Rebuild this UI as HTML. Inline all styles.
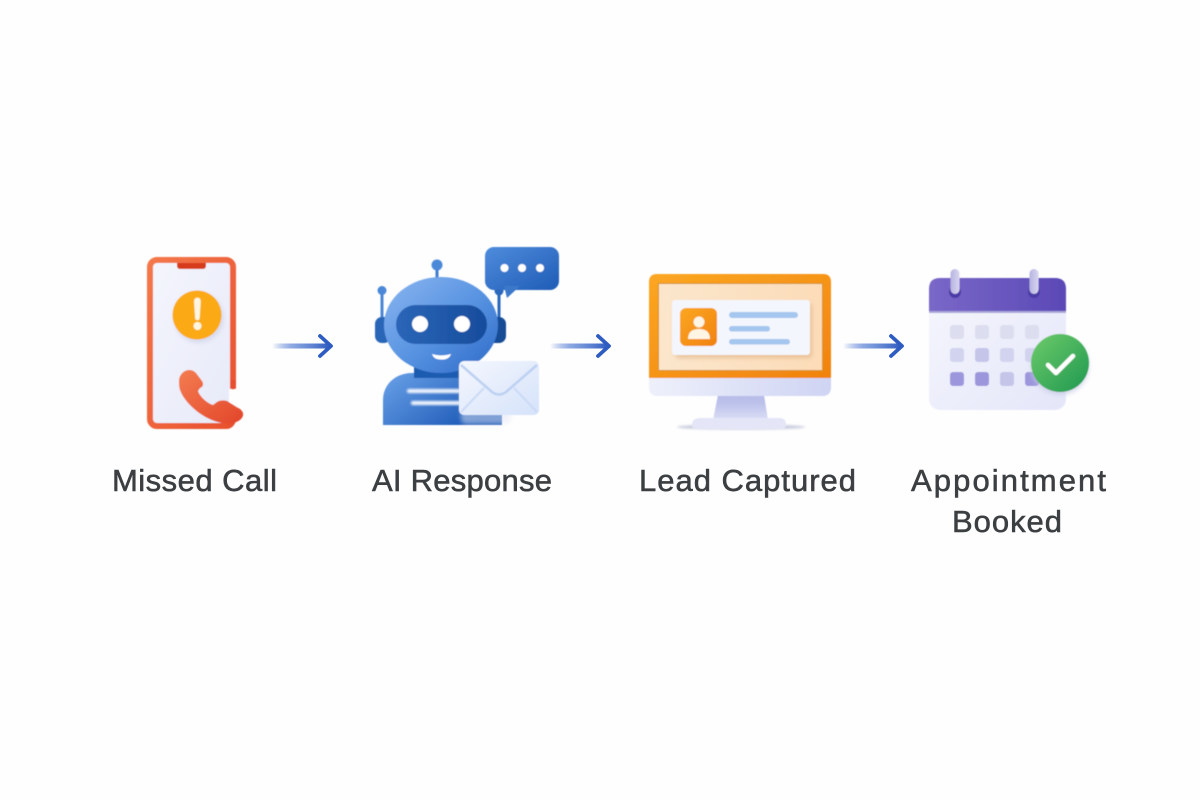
<!DOCTYPE html>
<html lang="en">
<head>
<meta charset="utf-8">
<title>Missed Call to Appointment Booked</title>
<style>
html,body{margin:0;padding:0;background:#fefefe}
svg{display:block}
text{font-family:"Liberation Sans",sans-serif;font-size:31px;fill:#3c3f42;stroke:#3c3f42;stroke-width:.55px}
</style>
</head>
<body>
<svg width="1200" height="800" viewBox="0 0 1200 800" xmlns="http://www.w3.org/2000/svg">
<defs>
<linearGradient id="ar" x1="0" x2="1" y1="0" y2="0"><stop offset="0" stop-color="#3a66c8" stop-opacity="0"/><stop offset=".35" stop-color="#6f92db" stop-opacity=".8"/><stop offset="1" stop-color="#2f5cc0"/></linearGradient>
<linearGradient id="ph" x1="0" x2="1" y1="0" y2="1"><stop offset="0" stop-color="#f4784a"/><stop offset="1" stop-color="#e8502e"/></linearGradient>
<linearGradient id="scr" x1="0" x2="1" y1="0" y2="1"><stop offset="0" stop-color="#f5f6fd"/><stop offset="1" stop-color="#e6e9f8"/></linearGradient>
<linearGradient id="hs" x1="0" x2="1" y1="0" y2="1"><stop offset="0" stop-color="#f47c50"/><stop offset="1" stop-color="#e2462a"/></linearGradient>
<linearGradient id="rb" x1="0" x2="1" y1="0" y2="1"><stop offset="0" stop-color="#8ab6f0"/><stop offset=".55" stop-color="#5591e0"/><stop offset="1" stop-color="#2c68c6"/></linearGradient>
<linearGradient id="rbd" x1="0" x2="1" y1="0" y2=".6"><stop offset="0" stop-color="#6aa2e8"/><stop offset="1" stop-color="#1c59b6"/></linearGradient>
<linearGradient id="bub" x1="0" x2="1" y1="0" y2="1"><stop offset="0" stop-color="#4e8cdc"/><stop offset="1" stop-color="#1f5cb6"/></linearGradient>
<linearGradient id="vis" x1="0" x2="1" y1="0" y2="0"><stop offset="0" stop-color="#2b66b8"/><stop offset="1" stop-color="#174c9c"/></linearGradient>
<linearGradient id="env" x1="0" x2="1" y1="0" y2="1"><stop offset="0" stop-color="#f4f7fe"/><stop offset="1" stop-color="#d5e2fa"/></linearGradient>
<linearGradient id="or" x1="0" x2="1" y1="0" y2="1"><stop offset="0" stop-color="#fba722"/><stop offset="1" stop-color="#f1820f"/></linearGradient>
<linearGradient id="msc" x1="0" x2="1" y1="0" y2="0"><stop offset="0" stop-color="#fbe6cc"/><stop offset="1" stop-color="#fcdcb8"/></linearGradient>
<linearGradient id="chin" x1="0" x2="1" y1="0" y2="0"><stop offset="0" stop-color="#eef0fb"/><stop offset="1" stop-color="#cfd4f3"/></linearGradient>
<linearGradient id="stand" x1="0" x2="0" y1="0" y2="1"><stop offset="0" stop-color="#b6bce8"/><stop offset=".35" stop-color="#bcc2ea"/><stop offset="1" stop-color="#dcdff6"/></linearGradient>
<linearGradient id="cal" x1="0" x2="1" y1="0" y2="1"><stop offset="0" stop-color="#f6f7fd"/><stop offset="1" stop-color="#e4e6f9"/></linearGradient>
<linearGradient id="calh" x1="0" x2="1" y1="0" y2="0"><stop offset="0" stop-color="#7a68c8"/><stop offset="1" stop-color="#5b49b6"/></linearGradient>
<linearGradient id="gr" x1="0" x2="1" y1="0" y2="1"><stop offset="0" stop-color="#6ecb6a"/><stop offset="1" stop-color="#1e9850"/></linearGradient>
<linearGradient id="ring" x1="0" x2="1" y1="0" y2="0"><stop offset="0" stop-color="#b6b3e0"/><stop offset="1" stop-color="#d8d6f0"/></linearGradient>
<filter id="b2" x="-30%" y="-30%" width="160%" height="160%"><feGaussianBlur stdDeviation="2"/></filter>
<filter id="b1" x="-30%" y="-30%" width="160%" height="160%"><feGaussianBlur stdDeviation="1"/></filter>
<filter id="sm" x="-5%" y="-5%" width="110%" height="110%"><feGaussianBlur stdDeviation=".4"/></filter>
</defs>

<rect width="1200" height="800" fill="#fefefe"/>

<!-- Phone -->
<g filter="url(#sm)">
<rect x="150" y="260" width="83" height="166" rx="7" fill="url(#scr)" stroke="url(#ph)" stroke-width="6"/>
<rect x="229" y="389" width="9" height="28" fill="#fefefe"/>
<path d="M230 386.500a3 3 0 0 0 6 0V380H230Z" fill="#e8502e"/>
<path d="M177 263H206V266a3 3 0 0 1-3 3H180a3 3 0 0 1-3-3Z" fill="#d63a1e"/>
<circle cx="199" cy="318" r="25" fill="#d9dcee" filter="url(#b2)"/>
<circle cx="197" cy="315" r="24.500" fill="#fbaa18"/>
<path d="M194 301a3.400 3.400 0 0 1 6.800 0L199.700 318a2.300 2.300 0 0 1-4.600 0Z" fill="#fff6e2"/>
<circle cx="197.500" cy="326" r="4" fill="#fff6e2"/>
<path d="M179 381C179 375 184 370 189 370C192 370 194 371 196 373L202 381C204 384 203 387 200 388L198 391C199 395 206 403 213 405L217 402C220 400 224 400 227 401L240 409C244 412 244 416 241 419C237 423 230 424 222 423C204 420 185 404 180 390C179 387 179 384 179 381Z" fill="url(#hs)"/>
</g>

<!-- Arrows -->
<g fill="none" stroke-linecap="round" stroke-linejoin="round">
<rect x="272" y="343.500" width="58" height="5" fill="url(#ar)" stroke="none"/>
<path d="M320 336L331 346L320 356" stroke="#2f5cc0" stroke-width="3.800"/>
<rect x="550" y="343.500" width="58" height="5" fill="url(#ar)" stroke="none"/>
<path d="M598 336L609 346L598 356" stroke="#2f5cc0" stroke-width="3.800"/>
<rect x="843" y="343.500" width="58" height="5" fill="url(#ar)" stroke="none"/>
<path d="M891 336L902 346L891 356" stroke="#2f5cc0" stroke-width="3.800"/>
</g>

<!-- Robot -->
<g filter="url(#sm)">
<rect x="435.500" y="270" width="3" height="12" fill="#3f7dd0"/>
<circle cx="437" cy="265" r="5.500" fill="#4c88d8"/>
<rect x="380.500" y="292" width="3" height="32" fill="#4a86d6"/>
<circle cx="382" cy="290.500" r="4.500" fill="#4c88d8"/>
<rect x="497.500" y="292" width="3" height="32" fill="#2c68bc"/>
<circle cx="499" cy="291" r="4.500" fill="#2c68bc"/>
<rect x="375" y="317" width="16" height="26" rx="7" fill="#2966b8"/>
<rect x="488" y="317" width="18" height="26" rx="7" fill="#164c96"/>
<path d="M383 425V400C383 384 396 373 412 373H470C490 373 502 385 502 402V425Z" fill="url(#rbd)"/>
<rect x="414" y="366" width="50" height="12" fill="#1f5cb0"/>
<ellipse cx="441" cy="325" rx="57" ry="48" fill="url(#rb)"/>
<rect x="396" y="305" width="91" height="39" rx="19.500" fill="url(#vis)"/>
<circle cx="420" cy="324" r="8" fill="#fff"/>
<circle cx="462" cy="324" r="8" fill="#fff"/>
<path d="M432 354Q441 357 451 354Q449 360 441 359.500Q434 360 432 354Z" fill="#fff"/>
<rect x="407" y="389" width="54" height="4" rx="2" fill="#f2f7ff" filter="url(#b1)"/>
<rect x="411" y="401" width="50" height="4" rx="2" fill="#f2f7ff" filter="url(#b1)"/>
<rect x="485" y="247" width="74" height="43" rx="9" fill="url(#bub)"/>
<path d="M504 286H520L507 298Z" fill="#3a78ca"/>
<circle cx="504.500" cy="268" r="4" fill="#fff"/>
<circle cx="522" cy="268" r="4" fill="#fff"/>
<circle cx="540" cy="268" r="4" fill="#fff"/>
<rect x="461" y="364" width="50" height="60" rx="5" fill="#e4e8f4" opacity=".5" filter="url(#b2)"/>
<rect x="459" y="361" width="80" height="54" rx="5" fill="url(#env)"/>
<path d="M461 365L492 392Q499 397 506 392L537 365" fill="none" stroke="#bcd0f2" stroke-width="2.500"/>
<path d="M461 412L484 388M537 412L514 388" fill="none" stroke="#cbdaf5" stroke-width="2"/>
</g>

<!-- Monitor -->
<g filter="url(#sm)">
<ellipse cx="741" cy="427" rx="64" ry="2.500" fill="#c6c9dc" filter="url(#b1)"/>
<path d="M718 395H764L768 420H713Z" fill="url(#stand)"/>
<path d="M692 425Q692 418 700 418H780Q786 418 786 425Q786 429 780 429H698Q692 429 692 425Z" fill="#e4e6f8"/>
<path d="M649 377H831V387Q831 396 822 396H658Q649 396 649 387Z" fill="url(#chin)"/>
<path d="M657 274H823Q831 274 831 282V378H649V282Q649 274 657 274Z" fill="url(#or)"/>
<rect x="658.500" y="283.500" width="164" height="87" fill="url(#msc)" stroke="#d6912f" stroke-width="1"/>
<rect x="675" y="303" width="137" height="55" rx="4" fill="#d9a877" opacity=".55" filter="url(#b2)"/>
<rect x="672" y="300" width="138" height="55" rx="3" fill="#f4f6fd"/>
<rect x="680" y="308" width="37" height="38" rx="6" fill="url(#or)"/>
<circle cx="699" cy="322" r="5.500" fill="#fff5e4"/>
<path d="M688 339Q688 329 699 329Q710 329 710 339Z" fill="#fff5e4"/>
<rect x="729" y="312" width="69" height="6" rx="3" fill="#a5c6ee"/>
<rect x="729" y="326" width="41" height="5.500" rx="2.750" fill="#a5c6ee"/>
<rect x="729" y="339" width="61" height="5.500" rx="2.750" fill="#a5c6ee"/>
</g>

<!-- Calendar -->
<g filter="url(#sm)">
<rect x="929" y="278" width="137" height="132" rx="11" fill="url(#cal)"/>
<path d="M940 278H1055Q1066 278 1066 289V312H929V289Q929 278 940 278Z" fill="url(#calh)"/>
<rect x="929" y="311" width="137" height="2" fill="#a9a6d8"/>
<ellipse cx="955" cy="292" rx="6" ry="6" fill="#4b3ba6"/>
<ellipse cx="1034" cy="292" rx="6" ry="6" fill="#4b3ba6"/>
<rect x="950.500" y="269" width="9" height="25" rx="4.500" fill="url(#ring)"/>
<rect x="1029.500" y="269" width="9" height="25" rx="4.500" fill="url(#ring)"/>
<g fill="#dcdeef">
<rect x="950" y="325" width="14" height="14" rx="3"/><rect x="975" y="325" width="14" height="14" rx="3"/><rect x="1000" y="325" width="14" height="14" rx="3"/><rect x="1025" y="325" width="14" height="14" rx="3"/>
</g>
<g fill="#d2d3ee">
<rect x="950" y="348" width="14" height="14" rx="3"/><rect x="1000" y="348" width="14" height="14" rx="3"/><rect x="1025" y="348" width="14" height="14" rx="3"/>
</g>
<rect x="975" y="348" width="14" height="14" rx="3" fill="#c5c5ea"/>
<rect x="950" y="372" width="14" height="14" rx="3" fill="#9c96dc"/>
<rect x="975" y="372" width="14" height="14" rx="3" fill="#9c96dc"/>
<rect x="1000" y="372" width="14" height="14" rx="3" fill="#c5c5ea"/>
<rect x="1025" y="372" width="14" height="14" rx="3" fill="#9c96dc"/>
<circle cx="1060" cy="366" r="29" fill="#c8cbe6" opacity=".7" filter="url(#b2)"/>
<circle cx="1060" cy="363" r="29" fill="url(#gr)"/>
<path d="M1048 365L1056 373L1073 356" fill="none" stroke="#fff" stroke-width="4.500" stroke-linecap="round" stroke-linejoin="round"/>
</g>

<!-- Labels -->
<text x="112" y="491" textLength="165" lengthAdjust="spacing">Missed Call</text>
<text x="372" y="491" textLength="180" lengthAdjust="spacing">AI Response</text>
<text x="639" y="491" textLength="217" lengthAdjust="spacing">Lead Captured</text>
<text x="911" y="491" textLength="195" lengthAdjust="spacing">Appointment</text>
<text x="952" y="532" textLength="110" lengthAdjust="spacing">Booked</text>
</svg>
</body>
</html>
